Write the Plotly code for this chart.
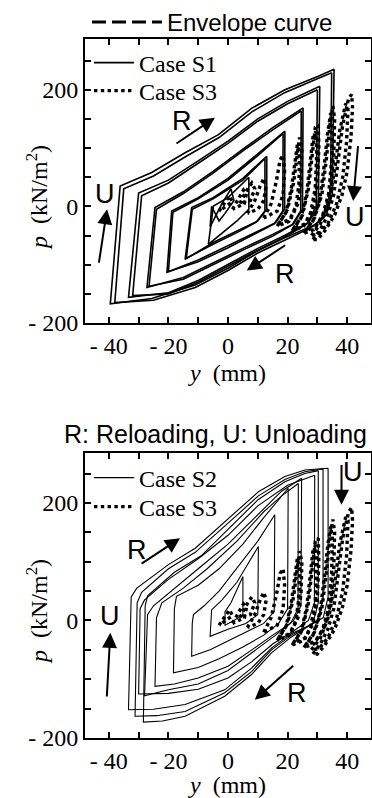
import plotly.graph_objects as go

# ---------------- data (y in mm, p in kN/m2) ----------------
# Case S1 loops (top panel), each closed loop listed as vertices
S1_Y = [
    [35.6, 35.0, 33.0, 29.0, 19.0, 10.0, 0.0, -11.0, -25.6, -39.5, -36.2, -25.6, -14.4, -3.2, 7.9, 19.1, 30.3, 35.6],
    [34.8, 34.4, 32.0, 28.0, 19.0, 10.0, 0.0, -11.0, -25.0, -38.0, -35.0, -25.0, -14.0, -3.0, 8.0, 19.0, 30.0, 34.8],
    [30.8, 30.3, 27.0, 19.0, 10.0, 0.0, -10.0, -20.0, -33.4, -30.0, -20.0, -10.0, 0.0, 10.0, 20.0, 30.8],
    [30.0, 29.6, 26.5, 19.0, 10.0, 0.0, -10.0, -20.0, -32.0, -29.0, -20.0, -10.0, 0.0, 10.0, 20.0, 30.0],
    [25.2, 25.0, 22.0, 15.0, 5.0, -5.0, -15.0, -27.2, -24.5, -15.0, -5.0, 5.0, 15.0, 25.2],
    [24.6, 24.4, 21.5, 15.0, 5.0, -5.0, -15.0, -26.5, -24.0, -15.0, -5.0, 5.0, 15.0, 24.6],
    [19.1, 19.0, 16.0, 8.0, 0.0, -10.0, -20.5, -18.9, -10.0, 0.0, 10.0, 19.1],
    [18.5, 18.4, 15.5, 8.0, 0.0, -10.0, -20.0, -18.5, -10.0, 0.0, 10.0, 18.5],
    [13.0, 13.0, 10.0, 3.0, -5.0, -14.4, -12.2, -5.0, 5.0, 13.0],
    [12.4, 12.4, 9.5, 3.0, -5.0, -14.0, -12.0, -5.0, 5.0, 12.4],
    [7.0, 7.0, 3.0, -2.0, -6.6, -4.9, 0.0, 7.0],
    [-6.0, -5.5, -3.0, -1.0, 2.0, 1.0, -2.0, -6.0],
]
S1_P = [
    [235, 20, -15, -32, -54, -76, -106, -135, -158, -167, 35, 58, 92, 123, 168, 200, 223, 235],
    [229, 15, -20, -36, -58, -80, -110, -139, -161, -165, 30, 52, 86, 118, 162, 195, 219, 229],
    [206, 0, -28, -50, -72, -100, -127, -148, -156, 23, 45, 78, 112, 150, 180, 206],
    [200, 0, -30, -53, -75, -103, -130, -150, -153, 18, 40, 74, 108, 146, 176, 200],
    [169, -5, -30, -48, -72, -97, -122, -139, -2, 25, 60, 98, 135, 169],
    [164, -8, -32, -51, -75, -100, -125, -137, -5, 22, 57, 95, 131, 164],
    [129, -5, -28, -48, -68, -92, -113, -8, 15, 48, 90, 129],
    [125, -8, -30, -50, -71, -95, -112, -10, 13, 45, 87, 125],
    [86, -5, -25, -42, -62, -91, -2, 15, 48, 86],
    [82, -8, -27, -45, -65, -89, -5, 13, 45, 82],
    [50, -5, -25, -45, -65, 0.5, 15, 50],
    [-35, 0, -25, -12, 10, 30, 5, -35],
]

# Case S2 loops (bottom panel)
S2_Y = [
    [33.6, 33.6, 32.0, 27.0, 21.3, 14.6, 7.9, -1.1, -14.4, -25.0, -33.4, -32.5, -30.6, -20.0, -11.0, -1.2, 10.2, 19.1, 25.8, 33.6],
    [31.9, 31.9, 30.0, 25.0, 21.3, 14.6, 7.9, -1.1, -14.4, -24.0, -31.2, -30.5, -29.0, -20.0, -11.0, -1.2, 10.2, 19.1, 25.8, 31.9],
    [30.3, 30.3, 28.5, 24.0, 21.3, 14.6, 7.9, -1.1, -14.4, -22.0, -28.4, -27.8, -27.0, -18.0, -9.0, 0.0, 10.2, 19.1, 25.8, 30.3],
    [29.1, 29.0, 27.0, 22.0, 15.0, 8.0, 0.0, -10.0, -20.0, -30.0, -29.5, -28.0, -20.0, -10.0, 0.0, 10.0, 20.0, 29.1],
    [24.7, 24.5, 22.0, 16.0, 8.0, 0.0, -10.0, -20.0, -28.0, -27.0, -25.0, -18.0, -10.0, 0.0, 10.0, 18.0, 24.7],
    [23.6, 23.5, 21.0, 15.0, 8.0, 0.0, -10.0, -18.0, -24.5, -24.0, -22.2, -15.0, -7.0, 3.0, 12.0, 18.0, 23.6],
    [20.2, 20.0, 17.0, 12.0, 5.0, -3.0, -10.0, -18.3, -18.0, -17.3, -10.0, -3.0, 5.0, 12.0, 20.2],
    [15.7, 15.5, 12.0, 6.0, 0.0, -6.0, -12.2, -12.0, -11.6, -8.0, -3.0, 3.0, 10.0, 15.7],
    [10.2, 10.0, 6.0, 0.0, -6.0, -5.8, -5.5, -2.0, 3.0, 10.2],
    [5.0, 5.0, 2.0, -1.0, -1.0, 1.0, 5.0],
]
S2_P = [
    [259, 40, 5, -10, -22, -47, -81, -118, -143, -151, -152, 40, 55, 95, 123, 168, 219, 245, 256, 259],
    [258, 35, 0, -15, -25, -50, -87, -123, -155, -162, -163, 30, 48, 88, 116, 160, 212, 240, 253, 258],
    [255, 30, -5, -20, -28, -55, -92, -129, -163, -171, -173, 25, 42, 82, 110, 155, 206, 236, 250, 255],
    [247, 30, 0, -18, -40, -70, -98, -117, -124, -125, 20, 35, 70, 105, 145, 195, 230, 247],
    [242, 25, 0, -25, -55, -85, -108, -118, -128, 10, 25, 55, 88, 130, 180, 220, 242],
    [233, 20, -5, -25, -50, -78, -98, -108, -112, 5, 30, 55, 88, 135, 185, 212, 233],
    [225, 20, -5, -25, -45, -65, -80, -89, 20, 41, 60, 88, 130, 175, 225],
    [180, 15, -5, -20, -35, -50, -61, -5, 10, 25, 50, 90, 135, 180],
    [126, 10, -5, -15, -27, 5, 18, 35, 65, 126],
    [75, 10, 0, -8, 15, 30, 75],
]

# Case S3 loops (shown in both panels)
S3_Y = [
    [28.5, 31.0, 33.5, 35.5, 37.0, 38.5, 40.5, 41.5, 41.8, 41.3, 40.0, 38.3, 35.8, 32.5, 30.0, 28.5],
    [28.0, 31.0, 34.0, 36.0, 37.5, 39.5, 40.3, 39.8, 38.5, 36.5, 33.5, 30.5, 28.0],
    [26.0, 29.0, 31.5, 33.0, 34.2, 35.2, 35.8, 35.5, 34.5, 32.5, 29.5, 26.0],
    [25.5, 28.5, 30.8, 32.3, 33.5, 34.5, 35.0, 34.8, 33.8, 31.8, 28.8, 25.5],
    [22.0, 25.0, 27.0, 28.3, 29.3, 30.3, 30.5, 30.0, 28.5, 26.0, 22.0],
    [21.5, 24.5, 26.4, 27.6, 28.6, 29.5, 29.8, 29.3, 27.8, 25.4, 21.5],
    [17.0, 20.0, 22.0, 23.2, 24.0, 24.8, 24.5, 23.5, 21.0, 17.0],
    [16.5, 19.5, 21.3, 22.5, 23.3, 24.0, 23.8, 22.8, 20.4, 16.5],
    [12.0, 14.5, 16.3, 17.5, 18.5, 19.0, 18.5, 16.5, 12.0],
    [6.5, 9.0, 10.8, 12.0, 12.8, 12.0, 10.0, 6.5],
    [4.0, 6.0, 8.0, 9.0, 7.5, 4.0],
    [1.5, 3.5, 5.2, 6.2, 5.5, 1.5],
    [-3.0, -1.0, 0.5, 1.5, -3.0],
]
S3_P = [
    [-57, -40, -15, 20, 80, 140, 185, 192, 170, 120, 60, 20, -15, -42, -57, -57],
    [-50, -30, 10, 70, 130, 176, 170, 110, 50, 5, -30, -48, -50],
    [-42, -20, 20, 80, 140, 172, 150, 90, 30, -10, -35, -42],
    [-46, -25, 12, 70, 128, 160, 140, 80, 22, -15, -40, -46],
    [-38, -15, 30, 90, 135, 140, 100, 40, -5, -30, -38],
    [-42, -20, 22, 80, 122, 128, 90, 32, -10, -34, -42],
    [-30, -5, 40, 90, 118, 100, 45, 5, -22, -30],
    [-34, -10, 32, 80, 106, 90, 38, 0, -26, -34],
    [-20, 5, 45, 80, 88, 60, 20, -8, -20],
    [-12, 10, 35, 48, 35, 10, -5, -12],
    [5, 25, 40, 30, 10, 5],
    [-5, 12, 28, 22, 5, -5],
    [-8, 8, 18, 8, -8],
]

X_TICKS = [-40, -20, 0, 20, 40]
X_LABELS = ["- 40", "- 20", "0", "20", "40"]
X_MINOR = [-30, -10, 10, 30]
Y_TICKS = [-200, 0, 200]
Y_LABELS = ["- 200", "0", "200"]
Y_MINOR = [-150, -100, -50, 50, 100, 150, 250]

# direction arrows (tail y, tail p, head y, head p) and their letters
ARROWS_TOP = [(-17.8, 106, -4.4, 152), (-43.4, -99, -40.6, -5), (43.7, 106, 42.0, 9), (19.7, -65, 6.3, -110)]
LABELS_TOP = [(-15.4, 146, "R"), (-41.2, 21, "U"), (42.5, -19, "U"), (19.1, -116, "R")]
ARROWS_BOT = [(-29.5, 95, -16.1, 140), (38.1, 267, 38.1, 197), (-40.7, -132, -39.5, -21), (22.4, -75, 9.0, -135)]
LABELS_BOT = [(-30.6, 120, "R"), (42.0, 253, "U"), (-39.5, 7, "U"), (23.0, -123, "R")]


def joined(loops):
    out = []
    for lp in loops:
        out.extend(lp)
        out.append(None)
    return out


SERIF = "Liberation Serif, Times New Roman, serif"
SANS = "Liberation Sans, Arial, sans-serif"
W, H, ML, MR = 372, 798, 85, 1
PW = W - ML - MR

fig = go.Figure()

S1_LINE = dict(color="black", width=1.6)
S2_LINE = dict(color="black", width=1.1)
S3_LINE = dict(color="black", width=3.4, dash="dot")

# envelope legend entry (no visible data)
fig.add_trace(go.Scatter(x=[None], y=[None], mode="lines", name="Envelope curve",
                         line=dict(color="black", width=3, dash="14px,6px"),
                         legend="legend3", xaxis="x", yaxis="y"))
# top panel
fig.add_trace(go.Scatter(x=joined(S1_Y), y=joined(S1_P), mode="lines", name="Case S1",
                         line=S1_LINE, legend="legend", xaxis="x", yaxis="y"))
fig.add_trace(go.Scatter(x=joined(S3_Y), y=joined(S3_P), mode="lines", name="Case S3",
                         line=S3_LINE, legend="legend4", xaxis="x", yaxis="y"))
# bottom panel
fig.add_trace(go.Scatter(x=joined(S2_Y), y=joined(S2_P), mode="lines", name="Case S2",
                         line=S2_LINE, legend="legend2", xaxis="x2", yaxis="y2"))
fig.add_trace(go.Scatter(x=joined(S3_Y), y=joined(S3_P), mode="lines", name="Case S3",
                         line=S3_LINE, legend="legend5", xaxis="x2", yaxis="y2"))

# arrows and letters
for arrows, labels, xa, ya in ((ARROWS_TOP, LABELS_TOP, "x", "y"), (ARROWS_BOT, LABELS_BOT, "x2", "y2")):
    for (x0, y0, x1, y1) in arrows:
        fig.add_annotation(xref=xa, yref=ya, axref=xa, ayref=ya, x=x1, y=y1, ax=x0, ay=y0,
                           text="", showarrow=True, arrowhead=2, arrowsize=1.5, arrowwidth=2,
                           arrowcolor="black")
    for (x, y, t) in labels:
        fig.add_annotation(xref=xa, yref=ya, x=x, y=y, text=t, showarrow=False,
                           font=dict(family=SANS, size=27, color="black"))

axis_common = dict(showline=True, linecolor="black", linewidth=2, mirror="ticks",
                   ticks="inside", ticklen=6, tickwidth=1.5, tickcolor="black",
                   showgrid=False, zeroline=False, automargin=False,
                   tickfont=dict(family=SERIF, size=24, color="black"))

xax = dict(axis_common, range=[-48, 48], tickmode="array", tickvals=X_TICKS, ticktext=X_LABELS,
           minor=dict(tickmode="array", tickvals=X_MINOR, ticks="inside", ticklen=6,
                      tickwidth=1.5, tickcolor="black", showgrid=False),
           title=dict(text="<i>y</i>  (mm)", font=dict(family=SERIF, size=24, color="black"), standoff=6))
yax = dict(axis_common, tickmode="array", tickvals=Y_TICKS, ticktext=Y_LABELS,
           minor=dict(tickmode="array", tickvals=Y_MINOR, ticks="inside", ticklen=6,
                      tickwidth=1.5, tickcolor="black", showgrid=False))


def case_legend(center_py):
    return dict(x=4 / PW, y=(H - center_py) / H, xanchor="left", yanchor="middle",
                bgcolor="rgba(0,0,0,0)", font=dict(family=SERIF, size=24, color="black"),
                itemwidth=40)


fig.update_layout(
    template="none",
    width=W, height=H,
    margin=dict(l=ML, r=MR, t=0, b=0, pad=0),
    paper_bgcolor="white", plot_bgcolor="white",
    xaxis=dict(xax, domain=[0, 1], anchor="y"),
    yaxis=dict(yax, domain=[(H - 323) / H, (H - 39) / H], range=[-200, 287], anchor="x"),
    xaxis2=dict(xax, domain=[0, 1], anchor="y2"),
    yaxis2=dict(yax, domain=[(H - 738) / H, (H - 453) / H], range=[-200, 285], anchor="x2"),
    showlegend=True,
    legend=case_legend(63),
    legend4=case_legend(91),
    legend2=case_legend(478),
    legend5=case_legend(507),
    legend3=dict(x=2 / PW, y=1.0, xanchor="left", yanchor="top", bgcolor="rgba(0,0,0,0)",
                 font=dict(family=SANS, size=24, color="black"), itemwidth=70),
)

# y-axis titles placed as rotated text
for yc in (198, 612):
    fig.add_annotation(xref="paper", yref="paper", x=(37 - ML) / PW, y=(H - yc) / H,
                       xanchor="center", yanchor="middle",
                       text="<i>p</i>  (kN/m<sup>2</sup>)", textangle=-90, showarrow=False,
                       font=dict(family=SERIF, size=24, color="black"))

fig.add_annotation(xref="paper", yref="paper", x=(215 - ML) / PW, y=(H - 434) / H,
                   xanchor="center", yanchor="middle",
                   text="R: Reloading, U: Unloading", showarrow=False,
                   font=dict(family=SANS, size=25, color="black"))

fig.write_html("out.html")
